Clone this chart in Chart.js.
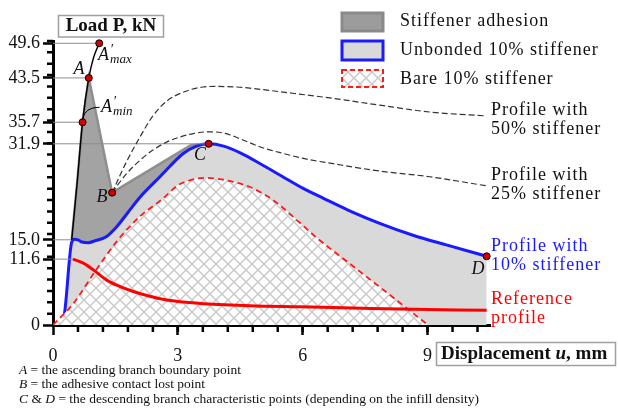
<!DOCTYPE html>
<html>
<head>
<meta charset="utf-8">
<script src="https://cdn.jsdelivr.net/npm/chart.js@4.4.1/dist/chart.umd.min.js"></script>
<style>
  html, body { margin: 0; padding: 0; background: #fff; }
</style>
</head>
<body>
<canvas id="grafico" width="618" height="408"></canvas>
<script>
const fonte = "'Liberation Serif', 'DejaVu Serif', serif";

// ticks rotulados
const yTicks = [0, 11.6, 15.0, 31.9, 35.7, 43.5, 49.6];
const xTicks = [0, 3, 6, 9];

// area escura (adesao do enrijecedor): borda superior
const adesaoX = [0.45, 0.58, 0.71, 0.86, 1.42, 3.3, 3.74];
const adesaoY = [15.0, 25.0, 35.7, 43.5, 23.3, 31.6, 31.9];

// ramo ascendente (linha preta ate A'max)
const ascX = [0.45, 0.58, 0.71, 0.86, 0.98, 1.11];
const ascY = [15.0, 25.0, 35.7, 43.5, 47.2, 49.6];

// perfil com 10% (azul)
const p10X = [0.05, 0.25, 0.45, 0.52, 0.6, 0.7, 0.85, 1.0, 1.29, 1.53, 1.8, 2.09, 2.57, 3.13, 3.45, 3.74, 4.1, 4.5, 5.0, 5.5, 6.0, 6.5, 7.1, 7.85, 8.65, 9.45, 10.42];
const p10Y = [0, 1.0, 14.6, 15.1, 15.0, 14.6, 14.5, 14.8, 15.6, 17.3, 19.8, 22.5, 26.1, 30.2, 31.5, 31.9, 31.5, 30.3, 28.3, 26.2, 24.1, 22.3, 20.2, 17.9, 15.8, 14.1, 12.1];

// enrijecedor 10% sem perfil (vermelho tracejado)
const nuX = [0, 0.49, 1.0, 1.53, 2.1, 2.65, 3.0, 3.3, 3.65, 4.0, 4.33, 4.73, 5.29, 5.9, 6.33, 7.13, 8.25, 9.01];
const nuY = [0, 3.8, 9.3, 14.7, 19.2, 22.3, 24.6, 25.5, 25.9, 25.7, 25.2, 24.3, 22.0, 18.2, 15.4, 10.8, 4.4, 0];

// perfil de referencia (vermelho), a subida fica sob a curva azul
const refX = [0.48, 0.73, 0.97, 1.29, 1.6, 1.93, 2.3, 2.73, 3.53, 4.73, 5.93, 7.2, 8.33, 10.42];
const refY = [11.6, 10.9, 9.7, 7.9, 6.8, 5.9, 5.1, 4.4, 3.8, 3.4, 3.2, 3.0, 2.8, 2.6];

// perfis com 50% e 25%
const p50X = [1.42, 1.75, 2.09, 2.4, 2.73, 3.21, 3.6, 3.93, 4.4, 4.73, 5.53, 6.73, 7.85, 9.05, 10.42];
const p50Y = [23.3, 28.5, 33.1, 36.8, 39.4, 41.2, 41.9, 42.0, 41.9, 41.7, 41.0, 39.9, 38.7, 37.5, 36.8];
const p25X = [1.42, 1.75, 2.09, 2.4, 2.73, 3.05, 3.37, 3.7, 3.85, 4.2, 4.49, 5.0, 5.53, 6.1, 6.73, 7.85, 9.05, 10.42];
const p25Y = [23.3, 26.5, 29.0, 30.8, 32.2, 33.1, 33.7, 34.0, 34.0, 33.6, 32.8, 31.3, 30.2, 29.2, 28.4, 27.1, 26.1, 24.5];

// pontos caracteristicos: A'max, A, A'min, B, C, D
const pontosX = [1.11, 0.86, 0.71, 1.42, 3.74, 10.42];
const pontosY = [49.6, 43.5, 35.7, 23.3, 31.9, 12.1];

// linhas de referencia horizontais (valor y, ate x)
const guiaY = [49.6, 43.5, 35.7, 31.9, 15.0, 11.6];
const guiaX = [1.11, 0.86, 0.71, 3.74, 0.45, 0.48];

const canvas = document.getElementById('grafico');
const ctx = canvas.getContext('2d');

function criarHachura() {
  const c = document.createElement('canvas');
  c.width = 12; c.height = 12;
  const g = c.getContext('2d');
  g.fillStyle = '#fff';
  g.fillRect(0, 0, 12, 12);
  g.strokeStyle = '#c8c8c8';
  g.lineWidth = 1.4;
  g.beginPath();
  g.moveTo(0, 0); g.lineTo(12, 12);
  g.moveTo(12, 0); g.lineTo(0, 12);
  g.stroke();
  return ctx.createPattern(c, 'repeat');
}
const hachura = criarHachura();

const pts = (xs, ys) => xs.map((x, i) => ({ x, y: ys[i] }));

const datasets = [
  { label: 'Stiffener adhesion', data: pts(adesaoX, adesaoY), backgroundColor: '#a3a3a3', borderColor: '#8e8e8e', borderWidth: 2.5, fill: 'origin', tension: 0, order: 10 },
  { label: 'Unbonded 10% stiffener', data: pts(p10X, p10Y), backgroundColor: '#d9d9d9', borderColor: '#1a1aff', borderWidth: 3, fill: 'origin', cubicInterpolationMode: 'monotone', order: 9 },
  { label: 'Bare 10% stiffener', data: pts(nuX, nuY), backgroundColor: hachura, borderColor: '#ff1a1a', borderWidth: 1.8, borderDash: [6, 4], fill: 'origin', cubicInterpolationMode: 'monotone', order: 8 },
  { label: 'Reference profile', data: pts(refX, refY), borderColor: '#ff0000', borderWidth: 3, fill: false, cubicInterpolationMode: 'monotone', order: 3 },
  { label: 'Profile with 50% stiffener', data: pts(p50X, p50Y), borderColor: '#333', borderWidth: 1.2, borderDash: [6, 3], fill: false, cubicInterpolationMode: 'monotone', order: 4 },
  { label: 'Profile with 25% stiffener', data: pts(p25X, p25Y), borderColor: '#333', borderWidth: 1.2, borderDash: [6, 3], fill: false, cubicInterpolationMode: 'monotone', order: 4 },
  { label: 'Ascending branch', data: pts(ascX, ascY), borderColor: '#000', borderWidth: 1.5, fill: false, cubicInterpolationMode: 'monotone', order: 2 }
];

guiaY.forEach((v, i) => {
  datasets.push({ label: 'guia', data: [{ x: 0, y: v }, { x: guiaX[i], y: v }], borderColor: '#8c8c8c', borderWidth: 1, fill: false, order: 5 });
});

datasets.push({
  label: 'pontos', data: pts(pontosX, pontosY), showLine: false, clip: false,
  pointRadius: 3.5, pointBackgroundColor: '#d40000', pointBorderColor: '#000', pointBorderWidth: 1, order: 0
});

const extras = {
  id: 'extras',
  afterDraw(chart) {
    const { ctx, chartArea: area } = chart;
    const x = chart.scales.x, y = chart.scales.y;
    ctx.save();

    // ticks menores
    ctx.strokeStyle = '#000';
    ctx.lineWidth = 2.5;
    ctx.beginPath();
    for (let v = 2; v <= 50; v += 2) {
      const py = y.getPixelForValue(v);
      ctx.moveTo(area.left - 6, py); ctx.lineTo(area.left, py);
    }
    for (let k = 1; k <= 17; k++) {
      const px = x.getPixelForValue(k * 0.6);
      ctx.moveTo(px, area.bottom); ctx.lineTo(px, area.bottom + 7);
    }
    ctx.stroke();

    // linha de chamada A'min
    const p0x = x.getPixelForValue(0.71), p0y = y.getPixelForValue(35.7);
    ctx.lineWidth = 1;
    ctx.beginPath();
    ctx.moveTo(p0x, p0y - 3);
    ctx.quadraticCurveTo(p0x + 2, p0y - 15, p0x + 17, p0y - 15);
    ctx.stroke();

    ctx.fillStyle = '#111';
    ctx.textBaseline = 'middle';
    ctx.letterSpacing = '0px';

    // rotulos dos pontos
    ctx.font = `italic 18px ${fonte}`;
    ctx.textAlign = 'center';
    ctx.fillText('A', 79, 69);
    ctx.fillText('B', 102, 197);
    ctx.fillText('C', 200, 155);
    ctx.fillText('D', 478, 269);
    ctx.textAlign = 'left';
    ctx.fillText('A', 98, 55);
    ctx.fillText('A', 101, 107);
    ctx.font = `italic 14px ${fonte}`;
    ctx.fillText('\u2032', 110, 50);
    ctx.fillText('\u2032', 113, 102);
    ctx.font = `italic 13px ${fonte}`;
    ctx.fillText('max', 110, 60);
    ctx.fillText('min', 113, 112);

    // legenda
    ctx.letterSpacing = '1px';
    ctx.font = `18px ${fonte}`;
    ctx.lineWidth = 3;
    ctx.fillStyle = '#9c9c9c'; ctx.fillRect(342, 13, 41, 18);
    ctx.strokeStyle = '#8a8a8a'; ctx.strokeRect(342, 13, 41, 18);
    ctx.fillStyle = '#d9d9d9'; ctx.fillRect(342, 41, 41, 19);
    ctx.strokeStyle = '#1a1aff'; ctx.strokeRect(342, 41, 41, 19);
    ctx.fillStyle = hachura; ctx.fillRect(342, 70, 41, 17);
    ctx.lineWidth = 2; ctx.setLineDash([5, 3]);
    ctx.strokeStyle = '#ff1a1a'; ctx.strokeRect(342, 70, 41, 17);
    ctx.setLineDash([]);
    ctx.fillStyle = '#111';
    ctx.fillText('Stiffener adhesion', 400, 21);
    ctx.fillText('Unbonded 10% stiffener', 400, 50);
    ctx.fillText('Bare 10% stiffener', 400, 79);

    // rotulos das curvas
    const rx = area.right + 1;
    ctx.fillText('Profile with', rx, 110);
    ctx.fillText('50% stiffener', rx, 129);
    ctx.fillText('Profile with', rx, 175);
    ctx.fillText('25% stiffener', rx, 194);
    ctx.fillStyle = '#1a1aff';
    ctx.fillText('Profile with', rx, 246);
    ctx.fillText('10% stiffener', rx, 265);
    ctx.fillStyle = '#ff0000';
    ctx.fillText('Reference', rx, 299);
    ctx.fillText('profile', rx, 318);

    // titulos dos eixos
    ctx.letterSpacing = '0px';
    ctx.fillStyle = '#111';
    ctx.strokeStyle = '#a0a0a0';
    ctx.lineWidth = 1.5;
    ctx.strokeRect(58.5, 15.5, 105, 21.5);
    ctx.font = `bold 19px ${fonte}`;
    ctx.textAlign = 'center';
    ctx.fillText('Load P, kN', 111, 26.5);

    ctx.strokeRect(436.5, 342.5, 179, 23);
    ctx.textAlign = 'left';
    let tx = 441;
    const partes = [['Displacement ', 'bold'], ['u', 'bold italic'], [', mm', 'bold']];
    partes.forEach(([t, estilo]) => {
      ctx.font = `${estilo} 19px ${fonte}`;
      ctx.fillText(t, tx, 354.5);
      tx += ctx.measureText(t).width;
    });

    // notas
    const notas = [
      [['A', 'italic'], [' = the ascending branch boundary point', '']],
      [['B', 'italic'], [' = the adhesive contact lost point', '']],
      [['C', 'italic'], [' & ', ''], ['D', 'italic'], [' = the descending branch characteristic points (depending on the infill density)', '']]
    ];
    notas.forEach((linha, i) => {
      let nx = 19;
      linha.forEach(([t, estilo]) => {
        ctx.font = `${estilo} 13.5px ${fonte}`.trim();
        ctx.fillText(t, nx, 370 + i * 14.5);
        nx += ctx.measureText(t).width;
      });
    });

    ctx.restore();
  }
};

new Chart(ctx, {
  type: 'line',
  data: { datasets },
  options: {
    responsive: false,
    animation: false,
    layout: { padding: { left: 0, right: 128, top: 41, bottom: 0 } },
    elements: { point: { radius: 0 } },
    plugins: { legend: { display: false }, tooltip: { enabled: false } },
    scales: {
      x: {
        type: 'linear', min: 0, max: 10.5,
        afterBuildTicks: s => { s.ticks = xTicks.map(v => ({ value: v })); },
        afterFit: s => { s.height = 83; },
        grid: { drawOnChartArea: false, color: '#000', tickColor: '#000', tickLength: 10, tickWidth: 2.5 },
        border: { color: '#000', width: 3 },
        ticks: { font: { family: fonte, size: 18 }, color: '#111', padding: 10, maxRotation: 0, autoSkip: false }
      },
      y: {
        type: 'linear', min: 0, max: 50,
        afterBuildTicks: s => { s.ticks = yTicks.map(v => ({ value: v })); },
        afterFit: s => { s.width = 53; },
        grid: { drawOnChartArea: false, color: '#000', tickColor: '#000', tickLength: 10, tickWidth: 2.5 },
        border: { color: '#000', width: 3 },
        ticks: {
          font: { family: fonte, size: 18 }, color: '#111', padding: 3, autoSkip: false,
          callback: v => v === 0 ? '0' : v.toFixed(1)
        }
      }
    }
  },
  plugins: [extras]
});
</script>
</body>
</html>
